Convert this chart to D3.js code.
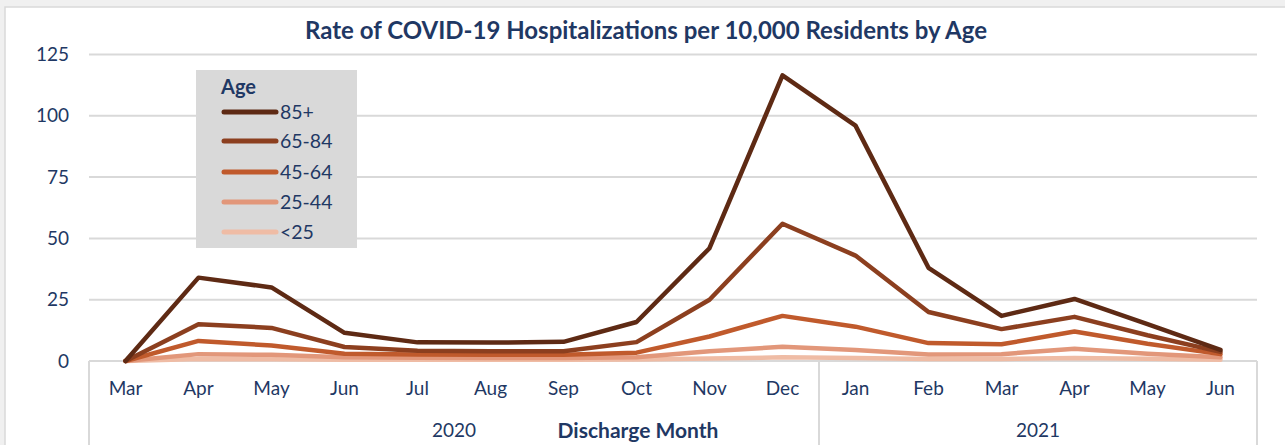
<!DOCTYPE html>
<html><head><meta charset="utf-8">
<script src="https://cdn.jsdelivr.net/npm/d3@7"></script>
<style>
body{margin:0;background:#f0f0f0;}
svg{display:block;}
text{font-family:Lato,"Open Sans",sans-serif;fill:#1f3864;}
</style></head>
<body>
<svg id="c" width="1285" height="445"></svg>
<script>
const months = ["Mar","Apr","May","Jun","Jul","Aug","Sep","Oct","Nov","Dec","Jan","Feb","Mar","Apr","May","Jun"];
const years = [{label:"2020", from:0, to:10},{label:"2021", from:10, to:16}];
const seriesNames = ["85+","65-84","45-64","25-44","<25"];
const v85 = [0,34,30,11.5,7.6,7.5,7.8,15.9,46,116.5,96,38,18.4,25.3,15,4.5];
const v65 = [0,15,13.5,5.7,4.2,4,4,7.7,25,56,43,20,13,18,10.5,3.7];
const v45 = [0,8.2,6.3,3,2.7,2.5,2.5,3.4,10,18.4,14,7.3,6.8,12,7,2.8];
const v25 = [0,2.8,2.5,1.5,1.3,1.2,1.2,1.5,4,5.8,4.5,2.7,2.8,5,3,1.5];
const vLt25 = [0,0.8,0.7,0.5,0.5,0.5,0.5,0.6,1,1.5,1.2,0.8,0.8,1.2,0.9,0.5];
const yTicks = [0,25,50,75,100,125];
const colors = ["#5e2a14","#8c3f1f","#c05a2c","#e2977a","#efbca5"];
const allSeries = [v85,v65,v45,v25,vLt25];

const svg = d3.select("#c");
svg.append("rect").attr("x",5).attr("y",7).attr("width",1285).attr("height",445).attr("fill","#fff").attr("stroke","#d9d9d9").attr("stroke-width",1.5);

const x = d3.scaleBand().domain(d3.range(months.length)).range([89,1257]);
const y = d3.scaleLinear().domain([0,125]).range([361,54.5]);

// gridlines
svg.append("g").selectAll("line").data(yTicks.filter(d=>d>0)).join("line")
  .attr("x1",89).attr("x2",1257).attr("y1",d=>y(d)).attr("y2",d=>y(d))
  .attr("stroke","#d9d9d9").attr("stroke-width",2);

// y axis labels
svg.append("g").selectAll("text").data(yTicks).join("text")
  .attr("x",69).attr("y",d=>y(d)+6.5).attr("text-anchor","end")
  .style("font-size","19px").text(d=>d);

// x axis baseline & separators
svg.append("line").attr("x1",89).attr("x2",1257).attr("y1",y(0)).attr("y2",y(0)).attr("stroke","#d9d9d9").attr("stroke-width",2);
const seps = [0,10,16];
svg.append("g").selectAll("line").data(seps).join("line")
  .attr("x1",d=>d===16?x.range()[1]:x(d)).attr("x2",d=>d===16?x.range()[1]:x(d))
  .attr("y1",y(0)).attr("y2",445).attr("stroke","#d9d9d9").attr("stroke-width",2);

svg.append("g").selectAll("text").data(months).join("text")
  .attr("x",(d,i)=>x(i)+x.bandwidth()/2).attr("y",395).attr("text-anchor","middle")
  .style("font-size","19px").text(d=>d);

svg.append("g").selectAll("text").data(years).join("text")
  .attr("x",d=>((x(d.from)) + (d.to===16?x.range()[1]:x(d.to)))/2).attr("y",437).attr("text-anchor","middle")
  .style("font-size","19px").text(d=>d.label);

svg.append("text").attr("x",638).attr("y",438).attr("text-anchor","middle")
  .style("font-size","21px").style("font-weight","bold").text("Discharge Month");

svg.append("text").attr("x",646).attr("y",39).attr("text-anchor","middle")
  .style("font-size","24px").style("font-weight","bold").text("Rate of COVID-19 Hospitalizations per 10,000 Residents by Age");

// lines (draw lightest first)
const line = d3.line().x((d,i)=>x(i)+x.bandwidth()/2).y(d=>y(d));
const order = [4,3,2,1,0];
svg.append("g").selectAll("path").data(order).join("path")
  .attr("d",k=>line(allSeries[k])).attr("fill","none")
  .attr("stroke",k=>colors[k]).attr("stroke-width",4.5)
  .attr("stroke-linejoin","round").attr("stroke-linecap","round");

// legend
const lg = svg.append("g");
lg.append("rect").attr("x",196).attr("y",70).attr("width",161).attr("height",178).attr("fill","#d9d9d9");
lg.append("text").attr("x",221).attr("y",94).style("font-size","20px").style("font-weight","bold").text("Age");
const ly = [112,141,172,202,232];
lg.selectAll("line.l").data(seriesNames).join("line").attr("class","l")
  .attr("x1",224).attr("x2",276).attr("y1",(d,i)=>ly[i]).attr("y2",(d,i)=>ly[i])
  .attr("stroke",(d,i)=>colors[i]).attr("stroke-width",5).attr("stroke-linecap","round");
lg.selectAll("text.t").data(seriesNames).join("text").attr("class","t")
  .attr("x",280).attr("y",(d,i)=>ly[i]+7).style("font-size","19.5px").text(d=>d);
</script>
</body></html>
